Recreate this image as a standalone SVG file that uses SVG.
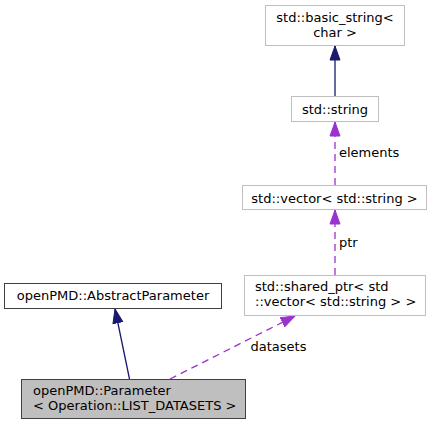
<svg xmlns="http://www.w3.org/2000/svg" width="434" height="425" viewBox="0 0 434 425">
<defs>
<style>
text{font-family:"DejaVu Sans","Liberation Sans",sans-serif;font-size:13px;fill:#000}
.ext{fill:#fff;stroke:#bfbfbf;stroke-width:1}
.cls{fill:#fff;stroke:#404040;stroke-width:1}
.main{fill:#bfbfbf;stroke:#404040;stroke-width:1}
.inh{fill:none;stroke:#191970;stroke-width:1.3}
.use{fill:none;stroke:#9a32cd;stroke-width:1.3;stroke-dasharray:7,5}
</style>
<marker id="ah" markerUnits="userSpaceOnUse" markerWidth="16" markerHeight="12" viewBox="0 -6 15 12" refX="14" refY="0" orient="auto">
<path d="M0,-5 L14,0 L0,5 z" fill="#191970" stroke="#191970" stroke-width="1"/>
</marker>
<marker id="ap" markerUnits="userSpaceOnUse" markerWidth="16" markerHeight="12" viewBox="0 -6 15 12" refX="14" refY="0" orient="auto">
<path d="M0,-5 L14,0 L0,5 z" fill="#9a32cd" stroke="#9a32cd" stroke-width="1"/>
</marker>
</defs>
<rect width="434" height="425" fill="#fff"/>
<g id="connectors">
<line class="inh" x1="335" y1="96.5" x2="335" y2="46" marker-end="url(#ah)"/>
<line class="use" x1="335" y1="185" x2="335" y2="122" marker-end="url(#ap)"/>
<text x="339" y="157">elements</text>
<line class="use" x1="335" y1="275" x2="335" y2="210" marker-end="url(#ap)"/>
<text x="339" y="247">ptr</text>
<line class="inh" x1="129.5" y1="379" x2="115" y2="309" marker-end="url(#ah)"/>
<line class="use" x1="170" y1="379" x2="295" y2="316" marker-end="url(#ap)"/>
<text x="250.5" y="351">datasets</text>
</g>
<g id="node-basic_string">
<rect class="ext" x="265.5" y="5.5" width="139" height="40"/>
<text x="335" y="22" text-anchor="middle">std::basic_string&lt;</text>
<text x="335" y="37" text-anchor="middle">char &gt;</text>
</g>
<g id="node-string">
<rect class="ext" x="291.5" y="96.5" width="87" height="25"/>
<text x="335" y="113.5" text-anchor="middle">std::string</text>
</g>
<g id="node-vector">
<rect class="ext" x="242.5" y="185.5" width="184" height="24"/>
<text x="334.5" y="202.5" text-anchor="middle">std::vector&lt; std::string &gt;</text>
</g>
<g id="node-shared_ptr">
<rect class="ext" x="244.5" y="275.5" width="181" height="40"/>
<text x="255" y="291">std::shared_ptr&lt; std</text>
<text x="255" y="305.5">::vector&lt; std::string &gt; &gt;</text>
</g>
<g id="node-abstract">
<rect class="cls" x="4.5" y="283.5" width="217" height="25"/>
<text x="113" y="300" text-anchor="middle">openPMD::AbstractParameter</text>
</g>
<g id="node-parameter">
<rect class="main" x="21.5" y="379.5" width="224" height="39"/>
<text x="33" y="395">openPMD::Parameter</text>
<text x="33" y="409.5">&lt; Operation::LIST_DATASETS &gt;</text>
</g>
</svg>
